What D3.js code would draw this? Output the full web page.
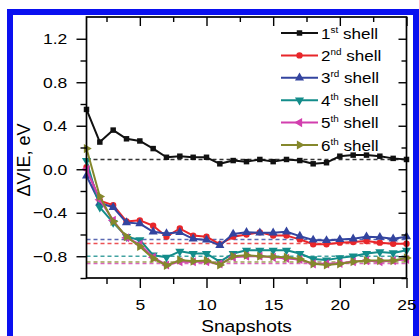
<!DOCTYPE html>
<html>
<head>
<meta charset="utf-8">
<script src="https://cdn.jsdelivr.net/npm/d3@7"></script>
<style>
  html, body { margin: 0; padding: 0; background: #fff; }
  svg { display: block; font-family: Arial, "Liberation Sans", Helvetica, sans-serif; }
</style>
</head>
<body>
<svg id="chart" width="419" height="336"></svg>
<script>
// Snapshot index along the x axis
const snapshots = [1,2,3,4,5,6,7,8,9,10,11,12,13,14,15,16,17,18,19,20,21,22,23,24,25];

// ΔVIE (eV) per solvation shell count
const shell1 = [0.55,0.25,0.36,0.28,0.26,0.19,0.11,0.12,0.11,0.11,0.05,0.08,0.07,0.09,0.07,0.09,0.08,0.05,0.06,0.12,0.13,0.13,0.12,0.10,0.09];
const shell2 = [0.02,-0.29,-0.33,-0.48,-0.47,-0.52,-0.62,-0.545,-0.61,-0.62,-0.69,-0.62,-0.60,-0.58,-0.61,-0.61,-0.645,-0.69,-0.69,-0.675,-0.67,-0.66,-0.675,-0.685,-0.685];
const shell3 = [-0.06,-0.31,-0.35,-0.49,-0.50,-0.575,-0.59,-0.58,-0.64,-0.65,-0.70,-0.595,-0.58,-0.585,-0.585,-0.575,-0.615,-0.65,-0.655,-0.645,-0.64,-0.62,-0.625,-0.64,-0.62];
const shell4 = [0.08,-0.35,-0.49,-0.62,-0.65,-0.79,-0.81,-0.755,-0.775,-0.775,-0.85,-0.775,-0.745,-0.745,-0.745,-0.745,-0.775,-0.825,-0.835,-0.815,-0.80,-0.775,-0.76,-0.77,-0.745];
const shell5 = [0.0,-0.28,-0.47,-0.63,-0.69,-0.81,-0.88,-0.85,-0.85,-0.85,-0.87,-0.81,-0.80,-0.80,-0.81,-0.82,-0.83,-0.87,-0.87,-0.865,-0.85,-0.84,-0.85,-0.84,-0.83];
const shell6 = [0.19,-0.25,-0.48,-0.62,-0.71,-0.82,-0.885,-0.835,-0.845,-0.84,-0.88,-0.80,-0.79,-0.80,-0.805,-0.81,-0.825,-0.87,-0.88,-0.87,-0.85,-0.84,-0.84,-0.84,-0.815];

// Converged (average) level of each series, drawn as dashed reference lines
const averages = [0.09, -0.683, -0.646, -0.80, -0.868, -0.853];

// Legend labels: ordinal number + superscript suffix
const ordinals = ["1","2","3","4","5","6"];
const suffixes = ["st","nd","rd","th","th","th"];

const xTicks = [5, 10, 15, 20, 25];
const yTicks = [-0.8, -0.4, 0.0, 0.4, 0.8, 1.2];

const seriesValues = [shell1, shell2, shell3, shell4, shell5, shell6];
const colors = ["#111111", "#e8262a", "#33449f", "#138c8a", "#d23fae", "#85882c"];
const symbols = [d3.symbolSquare, d3.symbolCircle, d3.symbolTriangle, d3.symbolTriangle, d3.symbolTriangle, d3.symbolTriangle];
const rotations = [0, 0, 0, 180, -90, 90];
const symSizes = [30, 32, 36, 36, 36, 36];

const svg = d3.select("#chart");

// Blue frame around the figure
svg.append("rect")
  .attr("x", 10).attr("y", 12)
  .attr("width", 406).attr("height", 340)
  .attr("fill", "#fff")
  .attr("stroke", "#0a10f0").attr("stroke-width", 6);

const plotL = 86.5, plotR = 406.5, plotT = 17, plotB = 278;

const x = d3.scaleLinear().domain([1, 25]).range([plotL, plotR]);
const y = d3.scaleLinear().domain([-1.0, 1.4]).range([plotB, plotT]);

const g = svg.append("g");

// Dashed reference lines
averages.forEach((v, i) => {
  g.append("line")
    .attr("x1", x(1)).attr("x2", x(25))
    .attr("y1", y(v)).attr("y2", y(v))
    .attr("stroke", colors[i])
    .attr("stroke-width", 1.4)
    .attr("stroke-dasharray", "4,3")
    .attr("opacity", i === 0 ? 0.85 : 0.8);
});

// Series lines and markers
const line = d3.line().x((d, i) => x(snapshots[i])).y(d => y(d));
seriesValues.forEach((vals, s) => {
  g.append("path")
    .attr("d", line(vals))
    .attr("fill", "none")
    .attr("stroke", colors[s])
    .attr("stroke-width", 2)
    .attr("stroke-linejoin", "round");
  const sym = d3.symbol().type(symbols[s]).size(symSizes[s]);
  g.selectAll(null)
    .data(vals)
    .join("path")
    .attr("d", sym)
    .attr("transform", (d, i) => `translate(${x(snapshots[i])},${y(d)}) rotate(${rotations[s]})`)
    .attr("fill", colors[s]);
});

// Axes; tick labels are slightly widened
const axisStyle = sel => {
  sel.select(".domain").remove();
  sel.selectAll("line").attr("stroke", "#000").attr("stroke-width", 1.4);
  sel.selectAll("text").attr("fill", "#000").attr("font-size", 15.5)
    .attr("font-family", "Arial, 'Liberation Sans', sans-serif")
    .attr("transform", "scale(1.13,1)");
};
const xMinor = [2.5, 7.5, 12.5, 17.5, 22.5];
const yMinor = [-1.0, -0.6, -0.2, 0.2, 0.6, 1.0];

// bottom: major ticks with labels, minor ticks between
svg.append("g").attr("transform", `translate(0,${plotB})`)
  .call(d3.axisBottom(x).tickValues(xTicks).tickSize(10).tickPadding(11).tickFormat(d3.format("d")))
  .call(axisStyle);
svg.append("g").attr("transform", `translate(0,${plotB})`)
  .call(d3.axisBottom(x).tickValues(xMinor).tickSize(6).tickFormat(""))
  .call(axisStyle);
// top: inward mirror ticks
svg.append("g").attr("transform", `translate(0,${plotT})`)
  .call(d3.axisTop(x).tickValues(xTicks).tickSize(-9).tickFormat(""))
  .call(axisStyle);
svg.append("g").attr("transform", `translate(0,${plotT})`)
  .call(d3.axisTop(x).tickValues(xMinor).tickSize(-5).tickFormat(""))
  .call(axisStyle);
// left
svg.append("g").attr("transform", `translate(${plotL},0)`)
  .call(d3.axisLeft(y).tickValues(yTicks).tickSize(10).tickPadding(7).tickFormat(d3.format(".1f")))
  .call(axisStyle);
svg.append("g").attr("transform", `translate(${plotL},0)`)
  .call(d3.axisLeft(y).tickValues(yMinor).tickSize(6).tickFormat(""))
  .call(axisStyle);
// right: inward mirror ticks
svg.append("g").attr("transform", `translate(${plotR},0)`)
  .call(d3.axisRight(y).tickValues(yTicks).tickSize(-8).tickFormat(""))
  .call(axisStyle);
svg.append("g").attr("transform", `translate(${plotR},0)`)
  .call(d3.axisRight(y).tickValues(yMinor).tickSize(-5).tickFormat(""))
  .call(axisStyle);

// Plot frame
svg.append("rect")
  .attr("x", plotL).attr("y", plotT)
  .attr("width", plotR - plotL).attr("height", plotB - plotT)
  .attr("fill", "none").attr("stroke", "#000").attr("stroke-width", 1.7);

// Axis titles
svg.append("text")
  .attr("transform", `translate(${(plotL + plotR) / 2},332) scale(1.13,1)`)
  .attr("text-anchor", "middle")
  .attr("font-size", 17)
  .text("Snapshots");
svg.append("text")
  .attr("transform", `translate(30,160) rotate(-90)`)
  .attr("text-anchor", "middle")
  .attr("font-size", 18)
  .text("ΔVIE, eV");

// Legend
const legend = svg.append("g");
ordinals.forEach((o, i) => {
  const ly = 33 + i * 22.4;
  legend.append("line")
    .attr("x1", 281).attr("x2", 318).attr("y1", ly).attr("y2", ly)
    .attr("stroke", colors[i]).attr("stroke-width", 2);
  legend.append("path")
    .attr("d", d3.symbol().type(symbols[i]).size(symSizes[i])())
    .attr("transform", `translate(299.5,${ly}) rotate(${rotations[i]})`)
    .attr("fill", colors[i]);
  const t = legend.append("text")
    .attr("transform", `translate(321,${ly + 5.5}) scale(1.1,1)`)
    .attr("font-size", 15.5);
  t.append("tspan").text(o);
  t.append("tspan").attr("font-size", 9).attr("dy", -6).text(suffixes[i]);
  t.append("tspan").attr("dy", 6).text(" shell");
});
</script>
</body>
</html>
